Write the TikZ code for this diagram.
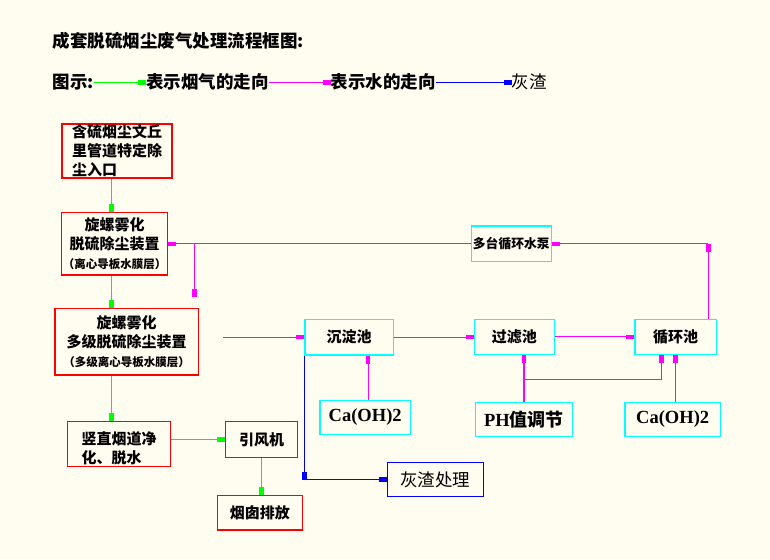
\documentclass[tikz,border=0pt]{standalone}
\usepackage{fontspec}
\setmainfont{Liberation Serif}
\newfontfamily\cjk{Noto Sans CJK SC}
\usetikzlibrary{arrows.meta,calc}
\definecolor{bg}{HTML}{FFFDF0}
\definecolor{cgreen}{HTML}{00FF00}
\definecolor{cmag}{HTML}{FF00FF}
\definecolor{ccyan}{HTML}{00FFFF}
\definecolor{cblue}{HTML}{0000FF}
\definecolor{cred}{HTML}{FF0000}
\tikzset{
  box/.style={draw, line width=1.4pt, inner sep=0pt, font={\fontsize{15}{19}\selectfont\cjk\bfseries}},
  redbox/.style={box, draw=cred},
  cyanbox/.style={box, draw=ccyan},
  latinbig/.style={font={\fontsize{18.5}{20}\selectfont\rmfamily\bfseries}},
  conn/.style={line width=1.15pt, -{Rectangle[length=8pt,width=4.5pt]}},
  gconn/.style={conn, draw=cgreen},
  mconn/.style={conn, draw=cmag},
  bconn/.style={conn, draw=cblue},
  mline/.style={line width=1.15pt, draw=cmag},
  txt/.style={inner sep=0pt, anchor=west, font={\fontsize{17.5}{20}\selectfont\cjk\bfseries}},
}
\begin{document}
\begin{tikzpicture}[x=1pt,y=-1pt]
\fill[bg] (0,0) rectangle (770,559);
\useasboundingbox (0,0) rectangle (770,559);

% legend
\node[txt] (title) at (52.7,40.7) {成套脱硫烟尘废气处理流程框图:};
\node[txt] (l0) at (52.7,82.3) {图示:};
\node[txt] (l1) at (146,82.3) {表示烟气的走向};
\node[txt] (l2) at (330.7,82.3) {表示水的走向};
\node[txt, font={\fontsize{17.5}{20}\selectfont\cjk}] (l3) at (511.7,82.3) {灰渣};
\draw[gconn] (l0.east) -- (l1.west);
\draw[mconn] (l1.east) -- (l2.west);
\draw[bconn] (l2.east) -- (l3.west);

% red boxes
\node[redbox, minimum width=110pt, minimum height=54pt, align=left] (b1) at (117,151) {含硫烟尘文丘\\里管道特定除\\尘入口};
\node[redbox, minimum width=106pt, minimum height=62.7pt, align=center] (b2) at (114.7,243.7) {旋螺雾化\\脱硫除尘装置\\{\fontsize{11.5}{14}\selectfont （离心导板水膜层）}};
\node[redbox, minimum width=143.3pt, minimum height=66.7pt, align=center] (b3) at (126.7,341.7) {旋螺雾化\\多级脱硫除尘装置\\{\fontsize{11.5}{14}\selectfont （多级离心导板水膜层）}};
\node[redbox, minimum width=103.4pt, minimum height=45pt, align=left] (b4) at (119,444.2) {\rule{0pt}{21pt}竖直烟道净\\化、脱水};
\node[redbox, minimum width=71.6pt, minimum height=35.6pt] (b5) at (261.5,439.5) {引风机};
\node[redbox, minimum width=85pt, minimum height=34.3pt] (b6) at (259.8,512.9) {烟囱排放};

% cyan boxes
\node[cyanbox, minimum width=88.3pt, minimum height=35.7pt] (s1) at (349.2,337.2) {沉淀池};
\node[cyanbox, minimum width=80pt, minimum height=35pt] (s2) at (514.3,336.8) {过滤池};
\node[cyanbox, minimum width=81.3pt, minimum height=35pt] (s3) at (675.7,336.8) {循环池};
\node[cyanbox, minimum width=80pt, minimum height=35.7pt, font={\fontsize{12.8}{15}\selectfont\cjk\bfseries}] (pump) at (511.3,243.8) {多台循环水泵};
\node[cyanbox, latinbig, minimum width=90.3pt, minimum height=34pt] (ca1) at (365.2,417.3) {Ca(OH)2};
\node[cyanbox, font={\fontsize{18}{20}\selectfont\cjk\bfseries}, minimum width=96.6pt, minimum height=34pt] (ph) at (524,419.3) {{\fontsize{18.5}{20}\selectfont\rmfamily PH}值调节};
\node[cyanbox, latinbig, minimum width=95.3pt, minimum height=34pt] (ca2) at (672.7,419.3) {Ca(OH)2};
\node[box, draw=cblue, font={\fontsize{17.5}{20}\selectfont\cjk}, minimum width=96pt, minimum height=34.4pt] (ash) at (435.3,479.5) {灰渣处理};

% green (flue gas)
\coordinate (gx) at (111.7,0);
\draw[gconn] (b1.south -| gx) -- (b2.north -| gx);
\draw[gconn] (b2.south -| gx) -- (b3.north -| gx);
\draw[gconn] (b3.south -| gx) -- (b4.north -| gx);
\draw[gconn] (b4.east |- b5.west) -- (b5.west);
\draw[gconn] (b5.south) -- (b5.south |- b6.north);

% blue (ash)
\coordinate (bc) at (s1.south west |- ash.west);
\draw[bconn] (s1.south west) -- (bc);
\draw[bconn] (bc) -- (ash.west);

% magenta (water)
\coordinate (min) at (223,337.2);
\draw[mconn] (min) -- (s1.west);
\draw[mconn] (s1.east) -- (s1.east -| s2.west);
\draw[mconn] (s2.east) -- (s3.west);
\draw[mconn] ([xshift=3pt]ca1.north) -- ([xshift=3pt]ca1.north |- s1.south);
\draw[mconn] (ph.north) -- (ph.north |- s2.south);
\coordinate (phb) at ($(ph.north)!0.48!(ph.north |- s2.south)$);
\coordinate (phc) at ([xshift=-14pt]s3.south |- phb);
\draw[mline] (phb) -- (phc);
\draw[mconn] (phc) -- (phc |- s3.south);
\draw[mconn] ([xshift=3pt]ca2.north) -- ([xshift=3pt]ca2.north |- s3.south);
\coordinate (rc) at ([xshift=32.6pt]s3.north |- pump.east);
\draw[mconn] ([xshift=32.6pt]s3.north) -- (rc);
\draw[mconn] (rc) -- (pump.east);
\draw[mconn] (pump.west) -- (pump.west -| b2.east);
\coordinate (mb) at (194.3,243.8);
\coordinate (me) at (194.3,296.7);
\draw[mconn] (mb) -- (me);
\end{tikzpicture}
\end{document}
